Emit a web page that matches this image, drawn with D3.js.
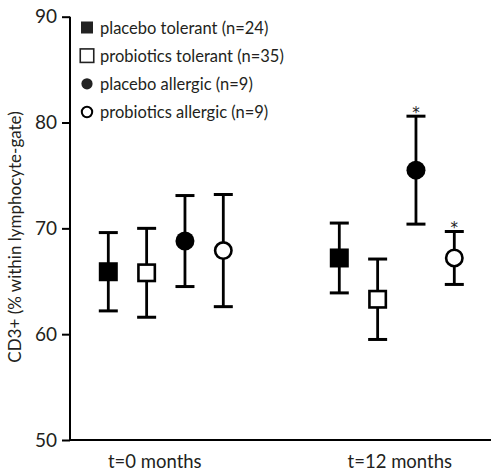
<!DOCTYPE html>
<html>
<head>
<meta charset="utf-8">
<script src="https://cdn.jsdelivr.net/npm/d3@7"></script>
<style>
  html, body { margin: 0; padding: 0; background: #fff; }
  svg { display: block; font-family: Lato, "Noto Sans", sans-serif; }
</style>
</head>
<body>
<svg id="chart" width="491" height="471"></svg>
<script>
// Time points and groups
const timepoints = ["t=0 months", "t=12 months"];
const groups = [
  "placebo tolerant (n=24)",
  "probiotics tolerant (n=35)",
  "placebo allergic (n=9)",
  "probiotics allergic (n=9)"
];
const groupShape = ["square", "square", "circle", "circle"];
const groupFilled = [true, false, true, false];

// Mean CD3+ (%) per group, one array per time point
const meanT0  = [65.9, 65.8, 68.8, 67.9];
const meanT12 = [67.2, 63.3, 75.5, 67.2];
// Error bar half-lengths
const errT0  = [3.7, 4.2, 4.3, 5.3];
const errT12 = [3.3, 3.8, 5.1, 2.5];
// Significance markers
const starT0  = [false, false, false, false];
const starT12 = [false, false, true, true];

const yTicks = [50, 60, 70, 80, 90];
const yTitle = "CD3+ (% within lymphocyte-gate)";

const rows = [];
[meanT0, meanT12].forEach((means, ti) => {
  const errs = [errT0, errT12][ti];
  const stars = [starT0, starT12][ti];
  means.forEach((m, gi) => rows.push({
    t: timepoints[ti], g: groups[gi], mean: m, err: errs[gi], star: stars[gi],
    shape: groupShape[gi], filled: groupFilled[gi]
  }));
});

const svg = d3.select("#chart");
const ink = "#000";
const textInk = "#231f20";

const y = d3.scaleLinear().domain([50, 90]).range([440, 16.7]);
const xOuter = d3.scalePoint().domain(timepoints).range([165.8, 396.8]);
const xInner = d3.scalePoint().domain(groups).range([-57.5, 57.5]);
const xPos = d => xOuter(d.t) + xInner(d.g);

// Y axis
const yAxis = svg.append("g")
  .attr("transform", "translate(70,0)")
  .call(d3.axisLeft(y).tickValues(yTicks).tickSize(8).tickPadding(5).tickFormat(d3.format("d")));
yAxis.select(".domain").attr("d", `M0,${y(90)}V${y(50)}`).attr("stroke", ink).attr("stroke-width", 2);
yAxis.selectAll(".tick line").attr("stroke", ink).attr("stroke-width", 2);
yAxis.selectAll(".tick text").attr("font-size", 19).attr("fill", textInk)
  .attr("font-family", "Lato, sans-serif");

// X axis baseline
svg.append("line")
  .attr("x1", 69).attr("x2", 491)
  .attr("y1", y(50)).attr("y2", y(50))
  .attr("stroke", ink).attr("stroke-width", 2);

// X category labels
svg.selectAll("text.xlab").data(timepoints).join("text")
  .attr("class", "xlab")
  .attr("x", d => xOuter(d) + (d === timepoints[0] ? -11 : 3))
  .attr("y", 468)
  .attr("text-anchor", "middle")
  .attr("font-size", 18.5).attr("fill", textInk)
  .text(d => d);

// Y title
svg.append("text")
  .attr("transform", "translate(21,237) rotate(-90)")
  .attr("text-anchor", "middle")
  .attr("font-size", 17).attr("fill", textInk)
  .text(yTitle);

// Error bars
const capW = 19;
const eb = svg.append("g").selectAll("g").data(rows).join("g");
eb.append("line")
  .attr("x1", xPos).attr("x2", xPos)
  .attr("y1", d => y(d.mean + d.err)).attr("y2", d => y(d.mean - d.err))
  .attr("stroke", ink).attr("stroke-width", 2.8);
eb.append("line")
  .attr("x1", d => xPos(d) - capW / 2).attr("x2", d => xPos(d) + capW / 2)
  .attr("y1", d => y(d.mean + d.err)).attr("y2", d => y(d.mean + d.err))
  .attr("stroke", ink).attr("stroke-width", 3);
eb.append("line")
  .attr("x1", d => xPos(d) - capW / 2).attr("x2", d => xPos(d) + capW / 2)
  .attr("y1", d => y(d.mean - d.err)).attr("y2", d => y(d.mean - d.err))
  .attr("stroke", ink).attr("stroke-width", 3);

// Markers
function drawMarker(sel, shape, filled, size) {
  if (shape === "square") {
    const s = filled ? size : size - 2.6;
    sel.append("rect")
      .attr("x", -s / 2).attr("y", -s / 2).attr("width", s).attr("height", s)
      .attr("fill", filled ? ink : "#fff")
      .attr("stroke", filled ? "none" : ink).attr("stroke-width", filled ? 0 : 2.6);
  } else {
    const r = filled ? size / 2 : size / 2 - 1.3;
    sel.append("circle").attr("r", r)
      .attr("fill", filled ? ink : "#fff")
      .attr("stroke", filled ? "none" : ink).attr("stroke-width", filled ? 0 : 2.6);
  }
}
svg.append("g").selectAll("g").data(rows).join("g")
  .attr("transform", d => `translate(${xPos(d)},${y(d.mean)})`)
  .each(function (d) { drawMarker(d3.select(this), d.shape, d.filled, 19); });

// Significance asterisks
svg.append("g").selectAll("text").data(rows.filter(d => d.star)).join("text")
  .attr("x", xPos)
  .attr("y", d => y(d.mean + d.err) + 1.5)
  .attr("text-anchor", "middle")
  .attr("font-family", "'DejaVu Sans', sans-serif")
  .attr("font-size", 15).attr("fill", "#222")
  .text("*");

// Legend
const legendY = d3.scalePoint().domain(groups).range([27.5, 112]);
const lg = svg.append("g").selectAll("g").data(groups).join("g")
  .attr("transform", d => `translate(87,${legendY(d)})`);
lg.each(function (d, i) {
  const g = d3.select(this);
  if (groupShape[i] === "square") {
    const s = groupFilled[i] ? 12 : 13.5;
    g.append("rect").attr("x", -s / 2).attr("y", -s / 2).attr("width", s).attr("height", s)
      .attr("fill", groupFilled[i] ? "#222" : "#fff")
      .attr("stroke", groupFilled[i] ? "none" : "#222").attr("stroke-width", 1.6);
  } else {
    g.append("circle").attr("r", groupFilled[i] ? 5.6 : 5.2)
      .attr("fill", groupFilled[i] ? "#222" : "#fff")
      .attr("stroke", groupFilled[i] ? "none" : ink).attr("stroke-width", 2);
  }
});
lg.append("text")
  .attr("x", 13).attr("y", 6)
  .attr("font-size", 16.5).attr("fill", textInk)
  .text(d => d);
</script>
</body>
</html>
